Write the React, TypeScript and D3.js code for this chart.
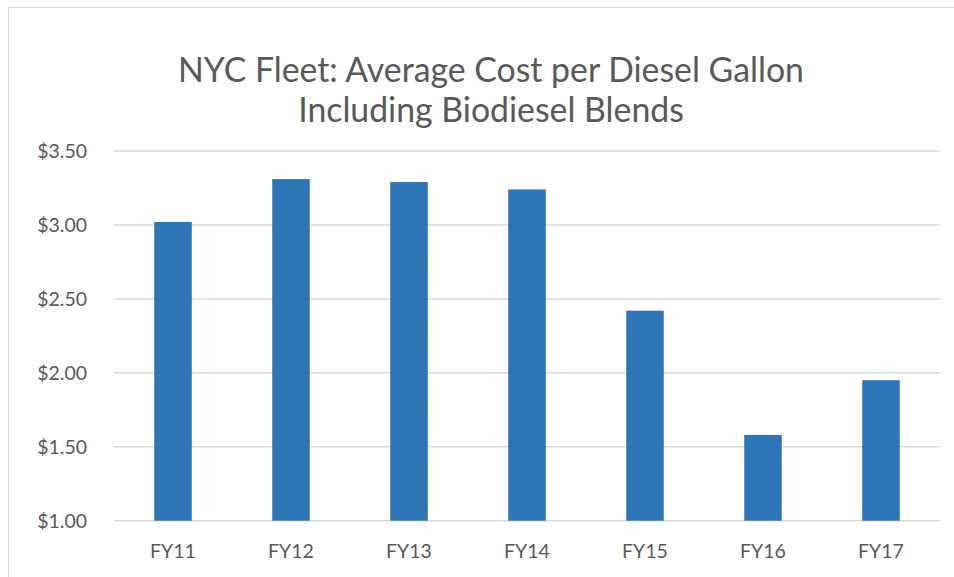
import React from "react";
import * as d3 from "d3";

const categories = ["FY11", "FY12", "FY13", "FY14", "FY15", "FY16", "FY17"];
const values = [3.02, 3.31, 3.29, 3.24, 2.42, 1.58, 1.95];
const yTicks = [1.0, 1.5, 2.0, 2.5, 3.0, 3.5];
const titleLines = ["NYC Fleet: Average Cost per Diesel Gallon", "Including Biodiesel Blends"];

const W = 954;
const H = 577;
const FONT = "Lato, 'Open Sans', sans-serif";

export default function App() {
  const x = d3.scaleBand<string>().domain(categories).range([114, 940]).paddingInner(0.682).paddingOuter(0.341);
  const y = d3.scaleLinear().domain([1, 3.5]).range([520.7, 151]);
  const fmt = (v: number) => "$" + d3.format(".2f")(v);

  return (
    <svg width={W} height={H} style={{ position: "fixed", left: 0, top: 0, background: "#fff" }}>
      <rect x={8.5} y={7.5} width={W + 10} height={H + 10} fill="#fff" stroke="#d9d9d9" strokeWidth={1} />
      {titleLines.map((t, i) => (
        <text key={t} x={491} y={82 + i * 40} textAnchor="middle" fontFamily={FONT} fontSize={33.8} fill="#595959">
          {t}
        </text>
      ))}
      {yTicks.map((v) => (
        <g key={v}>
          <line x1={114} x2={940} y1={y(v)} y2={y(v)} stroke="#d9d9d9" strokeWidth={1.5} />
          <text x={87} y={y(v)} dy="0.35em" textAnchor="end" fontFamily={FONT} fontSize={19.5} fill="#595959">
            {fmt(v)}
          </text>
        </g>
      ))}
      {categories.map((c, i) => (
        <g key={c}>
          <rect x={x(c)} y={y(values[i])} width={x.bandwidth()} height={y(1) - y(values[i])} fill="#2e75b6" />
          <text x={(x(c) as number) + x.bandwidth() / 2} y={558} textAnchor="middle" fontFamily={FONT} fontSize={19.5} fill="#595959">
            {c}
          </text>
        </g>
      ))}
    </svg>
  );
}
